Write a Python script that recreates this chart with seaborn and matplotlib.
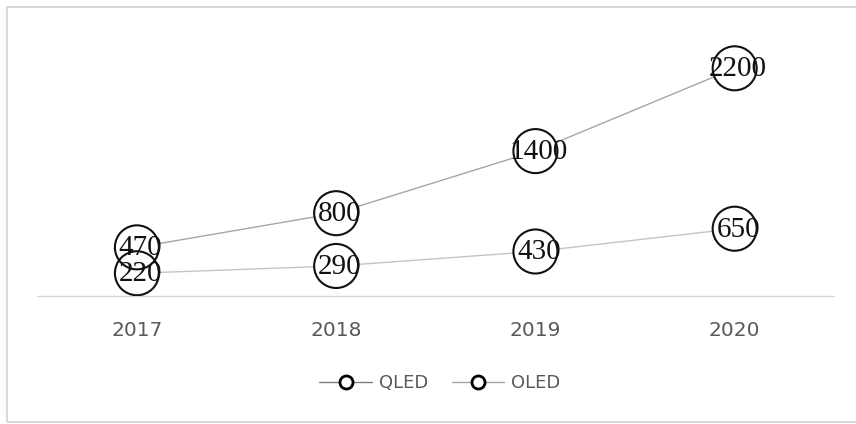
import matplotlib
matplotlib.use("Agg")
import matplotlib.pyplot as plt
from matplotlib.lines import Line2D
from matplotlib.patches import Rectangle
import seaborn as sns
import pandas as pd

years = ["2017", "2018", "2019", "2020"]
qled = [470, 800, 1400, 2200]
oled = [220, 290, 430, 650]
series_names = ["QLED", "OLED"]
line_colors = ["#a6a6a6", "#c4c4c4"]

sns.set_theme(style="white")
plt.rcParams["font.family"] = ["DejaVu Sans"]

W, H = 856, 424
fig = plt.figure(figsize=(W / 100, H / 100), dpi=100)
ax = fig.add_axes([37.3 / W, 128 / H, 797 / W, 258.75 / H])

df = pd.DataFrame({
    "pos": list(range(len(years))) * 2,
    "value": qled + oled,
    "series": [series_names[0]] * len(years) + [series_names[1]] * len(years),
})

sns.lineplot(data=df, x="pos", y="value", hue="series",
             palette=dict(zip(series_names, line_colors)),
             linewidth=1.0, legend=False, ax=ax, zorder=1)

# white-filled circles hide the connecting lines, then outlines drawn on top
sns.scatterplot(data=df, x="pos", y="value", s=31.7 ** 2, color="white",
                edgecolor="none", linewidth=0, legend=False, ax=ax, zorder=2)
sns.scatterplot(data=df, x="pos", y="value", s=31.7 ** 2, facecolor="none",
                edgecolor="#111111", linewidth=1.5, legend=False, ax=ax, zorder=3)

for x, v in zip(df["pos"], df["value"]):
    ax.annotate(f"{v}", (x, v), xytext=(2.5, 1.5), textcoords="offset points",
                ha="center", va="center_baseline", fontsize=21,
                family="Liberation Serif", color="#111111", zorder=4)

ax.set_xlim(-0.5, len(years) - 0.5)
ax.set_ylim(0, 2500)
ax.set_xticks(range(len(years)))
ax.set_xticklabels(years, fontsize=14.5, color="#595959")
ax.tick_params(axis="x", length=0, pad=18)
ax.set_yticks([])
ax.set_xlabel("")
ax.set_ylabel("")
for side in ["top", "left", "right"]:
    ax.spines[side].set_visible(False)
ax.spines["bottom"].set_color("#d9d9d9")
ax.spines["bottom"].set_linewidth(1.0)
ax.patch.set_alpha(0)

handles = [
    Line2D([0], [0], color=c, lw=1.0, marker="o", markersize=9.4,
           markerfacecolor="white", markeredgecolor="black", markeredgewidth=2.0)
    for c in ["#808080", "#a6a6a6"]
]
fig.legend(handles, series_names, loc="center", bbox_to_anchor=(440 / W, 41 / H),
           ncol=2, frameon=False, fontsize=13, labelcolor="#595959",
           handlelength=2.9, handletextpad=0.4, columnspacing=1.3)

fig.patches.append(Rectangle((7 / W, 2 / H), 860 / W, 415 / H, transform=fig.transFigure,
                             fill=False, edgecolor="#d9d9d9", linewidth=1.5, zorder=0))

fig.savefig("out.png", dpi=100)
